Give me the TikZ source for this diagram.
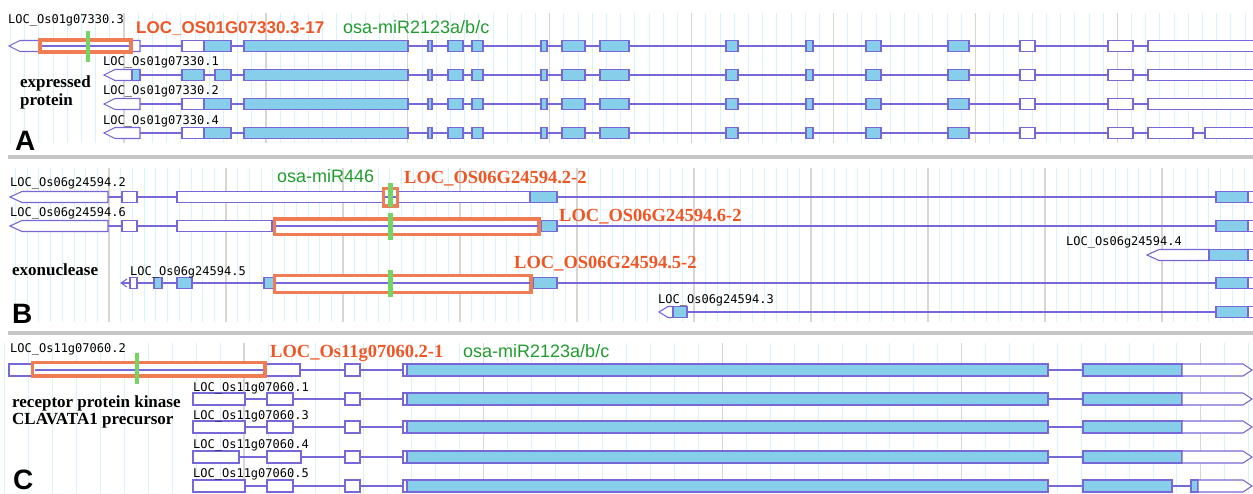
\documentclass[tikz,border=0pt]{standalone}
\usepackage{fontspec}
\setmainfont{Liberation Serif}
\setsansfont{Liberation Sans}
\setmonofont{DejaVu Sans Mono}
\definecolor{GeneLine}{RGB}{118,104,214}
\definecolor{ExonBlue}{RGB}{135,206,235}
\definecolor{HitOrange}{RGB}{240,124,84}
\definecolor{HitText}{RGB}{240,86,36}
\definecolor{MirGreen}{RGB}{116,212,100}
\definecolor{MirText}{RGB}{34,155,46}
\definecolor{GridMinor}{RGB}{214,244,250}
\definecolor{GridMajor}{RGB}{214,214,214}
\definecolor{PanelBar}{RGB}{198,198,198}
\usetikzlibrary{positioning}

\begin{document}
\begin{tikzpicture}[x=1pt,y=-1pt,
    utr/.style={draw=GeneLine,fill=white,line width=1.1pt},
    cds/.style={draw=GeneLine,fill=ExonBlue,line width=1.1pt},
    intr/.style={draw=GeneLine,line width=1.1pt},
    hit/.style={draw=HitOrange,fill=white,line width=3.4pt},
    mir/.style={draw=MirGreen,line width=4.2pt},
    minor/.style={draw=GridMinor,line width=0.8pt},
    major/.style={draw=GridMajor,line width=1.3pt},
    bar/.style={draw=PanelBar,line width=3.5pt},
    tname/.style={font=\ttfamily\fontsize{12}{12}\selectfont,anchor=west,inner sep=0pt},
    hitlbl/.style={font=\bfseries\fontsize{18.5}{18.5}\selectfont,text=HitText,anchor=base west,inner sep=0pt},
    mirlbl/.style={font=\sffamily\fontsize{18}{18}\selectfont,text=MirText,anchor=base west,inner sep=0pt},
    desc/.style={font=\bfseries\fontsize{17}{17.5}\selectfont,align=left,anchor=north west,inner sep=0pt},
    panel/.style={font=\sffamily\bfseries\fontsize{28}{28}\selectfont,anchor=base west,inner sep=0pt}]
  \useasboundingbox (0,0) rectangle (1253,493);
  \clip (0,0) rectangle (1253,493);

  % browser grid
  \foreach \k in {-8,...,80} \draw[minor] ({124+14.19*\k},13) -- ({124+14.19*\k},143);
  \foreach \k in {0,...,7} \draw[major] ({124+141.9*\k},13) -- ({124+141.9*\k},143);
  \foreach \k in {-8,...,98} \draw[minor] ({109+11.7*\k},168) -- ({109+11.7*\k},322);
  \foreach \k in {0,...,9} \draw[major] ({109+117*\k},168) -- ({109+117*\k},322);
  \foreach \k in {-10,...,42} \draw[minor] ({244+23.92*\k},343) -- ({244+23.92*\k},493);
  \foreach \k in {0,...,4} \draw[major] ({244+239.2*\k},343) -- ({244+239.2*\k},493);
  \draw[bar] (8,157) -- (1253,157);
  \draw[bar] (8,333) -- (1253,333);

  % A: LOC_Os01g07330
  \draw[intr] (9,46) -- (1253,46);
  \foreach \y in {75,104,133} \draw[intr] (104,\y) -- (1253,\y);
  \draw[utr] (9,46) -- (20,40.5) -- (140,40.5) -- (140,51.5) -- (20,51.5) -- cycle;
  \foreach \y in {75,104,133} \draw[utr] (104,\y) -- (115,\y-5.5) -- (140,\y-5.5) -- (140,\y+5.5) -- (115,\y+5.5) -- cycle;
  \foreach \y/\a/\b in {46/182/204,104/182/204,133/182/204,46/1148/1260,75/1148/1260,104/1148/1260,133/1148/1193,133/1205/1260}
    \draw[utr] (\a,\y-5.5) rectangle (\b,\y+5.5);
  \foreach \y/\a/\b in {75/132/140,75/182/204,75/215/231,46/204/231,104/204/231,133/204/231}
    \draw[cds] (\a,\y-5.5) rectangle (\b,\y+5.5);
  \foreach \y in {46,75,104,133} {
    \foreach \a/\b in {244/408,428/432,448/463,472/483,541/547,562/585,600/629,726/738,806/813,866/881,948/969}
      \draw[cds] (\a,\y-5.5) rectangle (\b,\y+5.5);
    \foreach \a/\b in {1020/1035,1108/1133}
      \draw[utr] (\a,\y-5.5) rectangle (\b,\y+5.5);
  }
  \draw[hit] (40,40) rectangle (131,52);
  \draw[intr] (42,46) -- (129,46);
  \draw[mir] (88,31) -- (88,62);

  \node[tname] (a3) at (8,20) {LOC\_Os01g07330.3};
  \node[tname] (a1) at (103,62) {LOC\_Os01g07330.1};
  \node[tname] (a2) at (103,91.5) {LOC\_Os01g07330.2};
  \node[tname] (a4) at (103,121) {LOC\_Os01g07330.4};
  \node[hitlbl,font=\sffamily\bfseries\fontsize{17}{17}\selectfont] (ahit) at (136,33) {LOC\_OS01G07330.3-17};
  \node[mirlbl] (amir) at (343,33) {osa-miR2123a/b/c};
  \node[desc] (adesc) at (20,76) {expressed\\protein};
  \node[panel] (pa) at (15,150) {A};

  % B: LOC_Os06g24594
  \foreach \y in {197,226} \draw[intr] (10,\y) -- (1253,\y);
  \draw[intr] (1147,255) -- (1253,255);
  \draw[intr] (121,283) -- (1253,283);
  \draw[intr] (659,312) -- (1253,312);
  \draw[intr] (127,279) -- (121,283) -- (127,287);
  \foreach \y in {197,226} \draw[utr] (10,\y) -- (22,\y-5.5) -- (108,\y-5.5) -- (108,\y+5.5) -- (22,\y+5.5) -- cycle;
  \draw[utr] (1147,255) -- (1159,249.5) -- (1209,249.5) -- (1209,260.5) -- (1159,260.5) -- cycle;
  \draw[utr] (659,312) -- (668,306.5) -- (673,306.5) -- (673,317.5) -- (668,317.5) -- cycle;
  \foreach \y/\a/\b in {197/122/137,197/177/530,226/122/137,226/177/272,283/130/137}
    \draw[utr] (\a,\y-5.5) rectangle (\b,\y+5.5);
  \foreach \y/\a/\b in {197/530/557,226/541/557,255/1209/1248,283/154/162,283/177/192,283/264/274,283/533/557,312/673/687}
    \draw[cds] (\a,\y-5.5) rectangle (\b,\y+5.5);
  \foreach \y in {197,226,283,312} \draw[cds] (1216,\y-5.5) rectangle (1248,\y+5.5);
  \foreach \y in {197,226,255,283,312} \draw[utr] (1248,\y-5.5) rectangle (1260,\y+5.5);
  \draw[hit] (383.5,188.5) rectangle (397.5,206);
  \draw[intr] (385,197) -- (396,197);
  \draw[hit] (274.5,219) rectangle (539,234.3);
  \draw[intr] (276,226) -- (537.5,226);
  \draw[hit] (274.5,275.7) rectangle (531,292.3);
  \draw[intr] (276,283) -- (529.5,283);
  \draw[mir] (390.5,183) -- (390.5,207);
  \draw[mir] (390.5,213) -- (390.5,240);
  \draw[mir] (390.5,270) -- (390.5,297);

  \node[tname] (b2) at (10,183) {LOC\_Os06g24594.2};
  \node[tname] (b6) at (10,213) {LOC\_Os06g24594.6};
  \node[tname] (b5) at (130,272) {LOC\_Os06g24594.5};
  \node[tname] (b4) at (1066,242) {LOC\_Os06g24594.4};
  \node[tname] (b3) at (658,300) {LOC\_Os06g24594.3};
  \node[mirlbl] (bmir) at (277,182) {osa-miR446};
  \node[hitlbl] (bhit2) at (404,183) {LOC\_OS06G24594.2-2};
  \node[hitlbl] (bhit6) at (559,221) {LOC\_OS06G24594.6-2};
  \node[hitlbl] (bhit5) at (514,268.5) {LOC\_OS06G24594.5-2};
  \node[desc,anchor=base west] (bdesc) at (12,275) {exonuclease};
  \node[panel] (pb) at (12,323) {B};

  % C: LOC_Os11g07060
  \draw[intr] (9,370) -- (1252,370);
  \foreach \y in {399,427,457,486} \draw[intr] (193,\y) -- (1252,\y);
  \draw[utr] (9,364) rectangle (300,376);
  \foreach \y/\a/\b in {399/193/245,399/267/293,427/193/245,427/267/293,457/193/239,457/267/301,486/193/245,486/267/293}
    \draw[utr] (\a,\y-6) rectangle (\b,\y+6);
  \foreach \y in {370,399,427,457,486} {
    \draw[utr] (345,\y-6) rectangle (360,\y+6);
    \draw[utr] (403,\y-6) rectangle (407,\y+6);
    \draw[cds] (407,\y-6) rectangle (1048,\y+6);
  }
  \foreach \y in {370,399,427,457} {
    \draw[cds] (1083,\y-6) rectangle (1182,\y+6);
    \draw[utr] (1182,\y-6) -- (1243,\y-6) -- (1252,\y) -- (1243,\y+6) -- (1182,\y+6) -- cycle;
  }
  \draw[cds] (1083,480) rectangle (1172,492);
  \draw[cds] (1191,480) rectangle (1198,492);
  \draw[utr] (1198,480) -- (1243,480) -- (1252,486) -- (1243,492) -- (1198,492) -- cycle;
  \draw[hit] (32.7,362.7) rectangle (265,376);
  \draw[intr] (34.5,370) -- (263,370);
  \draw[mir] (137,353) -- (137,384);

  \node[tname] (c2) at (10,349) {LOC\_Os11g07060.2};
  \node[tname] (c1) at (193,388) {LOC\_Os11g07060.1};
  \node[tname] (c3) at (193,416) {LOC\_Os11g07060.3};
  \node[tname] (c4) at (193,445) {LOC\_Os11g07060.4};
  \node[tname] (c5) at (193,474) {LOC\_Os11g07060.5};
  \node[hitlbl] (chit) at (270,357.5) {LOC\_Os11g07060.2-1};
  \node[mirlbl] (cmir) at (463,357.5) {osa-miR2123a/b/c};
  \node[desc] (cdesc) at (12,395) {receptor protein kinase\\CLAVATA1 precursor};
  \node[panel] (pc) at (13,489) {C};
\end{tikzpicture}
\end{document}
